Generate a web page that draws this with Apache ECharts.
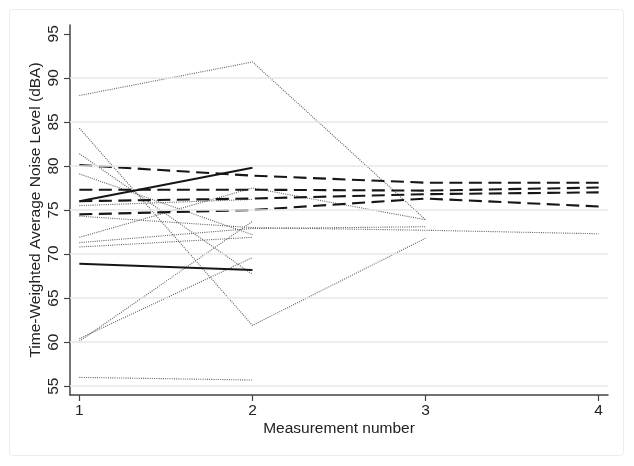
<!DOCTYPE html>
<html><head><meta charset="utf-8">
<script src="https://cdn.jsdelivr.net/npm/echarts@6/dist/echarts.min.js"></script>
<style>html,body{margin:0;padding:0;background:#fff}#c{width:634px;height:466px}</style>
</head><body><div id="c"></div>
<script>
// Measurement numbers (x categories on a value axis)
const measurements = [1, 2, 3, 4];
const yTicks = [55, 60, 65, 70, 75, 80, 85, 90, 95];
const gridValues = [55, 60, 65, 70, 75, 80, 85, 90];

// Dotted gray series (null = no measurement)
const dotted1 = [88.0, 91.8, 73.9, null];
const dotted2 = [84.3, 61.9, 71.8, null];
const dotted3 = [81.4, 67.7, null, null];
const dotted4 = [79.1, 72.2, null, null];
const dotted5 = [75.5, 76.2, null, null];
const dotted6 = [74.3, 73.0, 72.7, 72.3];
const dotted7 = [71.9, 77.5, 73.9, null];
const dotted8 = [71.3, 72.9, 73.1, null];
const dotted9 = [70.8, 71.9, null, null];
const dotted10 = [60.4, 69.6, null, null];
const dotted11 = [60.1, 73.7, null, null];
const dotted12 = [56.0, 55.7, null, null];

// Dashed black series
const dashed1 = [80.1, 78.9, 78.1, 78.1];
const dashed2 = [77.3, 77.3, 77.2, 77.55];
const dashed3 = [76.0, 76.3, 76.8, 77.0];
const dashed4 = [74.5, 75.0, 76.3, 75.4];

// Solid black series
const solid1 = [76.0, 79.8];
const solid2 = [68.9, 68.2];

const dottedSets = [dotted1, dotted2, dotted3, dotted4, dotted5, dotted6, dotted7, dotted8, dotted9, dotted10, dotted11, dotted12];
const dashedSets = [dashed1, dashed2, dashed3, dashed4];
const solidSets = [solid1, solid2];

function pts(arr) {
  const out = [];
  arr.forEach((v, i) => { if (v !== null && v !== undefined) out.push([measurements[i], v]); });
  return out;
}

const FONT = 'Liberation Sans, Arial, Helvetica, sans-serif';
const series = [];
// grid lines via markLine
series.push({
  type: 'line', data: [], silent: true,
  markLine: {
    silent: true, symbol: 'none', label: {show: false},
    lineStyle: {color: '#e1eaeb', width: 1.5, type: 'solid'},
    data: gridValues.map(v => ({yAxis: v}))
  }
});
dottedSets.forEach(d => series.push({
  type: 'line', data: pts(d), symbol: 'none', silent: true,
  lineStyle: {color: '#5e5e5e', width: 1.1, type: [1, 1.2]}
}));
dashedSets.forEach(d => series.push({
  type: 'line', data: pts(d), symbol: 'none', silent: true,
  lineStyle: {color: '#161616', width: 2.1, type: [13, 6.5]}
}));
solidSets.forEach(d => series.push({
  type: 'line', data: pts(d), symbol: 'none', silent: true,
  lineStyle: {color: '#161616', width: 2, type: 'solid'}
}));

const chart = echarts.init(document.getElementById('c'), null, {renderer: 'canvas'});
chart.setOption({
  animation: false,
  backgroundColor: '#fff',
  graphic: [{
    type: 'rect', shape: {x: 9.5, y: 9.5, width: 614, height: 446, r: 3},
    style: {fill: 'none', stroke: '#ececec', lineWidth: 1}, z: -1
  }],
  grid: {left: 70, right: 26, top: 25, bottom: 71, containLabel: false},
  xAxis: {
    type: 'value', min: 0.946, max: 4.054,
    name: 'Measurement number', nameLocation: 'middle', nameGap: 26, nameMoveOverlap: false,
    nameTextStyle: {fontFamily: FONT, fontSize: 15.5, color: '#222'},
    axisLine: {show: true, lineStyle: {color: '#444', width: 1.5}},
    axisTick: {show: true, length: 6, lineStyle: {color: '#444', width: 1.2}, customValues: measurements},
    axisLabel: {fontFamily: FONT, fontSize: 15.5, color: '#222', margin: 8, customValues: measurements, formatter: v => String(v)},
    splitLine: {show: false}
  },
  yAxis: {
    type: 'value', min: 54, max: 96,
    name: 'Time-Weighted Average Noise Level (dBA)', nameLocation: 'middle', nameGap: 26, nameRotate: 90, nameMoveOverlap: false,
    nameTextStyle: {fontFamily: FONT, fontSize: 15.5, color: '#222'},
    axisLine: {show: true, lineStyle: {color: '#444', width: 1.5}},
    axisTick: {show: true, length: 6, lineStyle: {color: '#444', width: 1.2}, customValues: yTicks},
    axisLabel: {fontFamily: FONT, fontSize: 15.5, color: '#222', rotate: 90, margin: 8, customValues: yTicks, formatter: v => String(v)},
    splitLine: {show: false}
  },
  series: series
});
</script></body></html>
